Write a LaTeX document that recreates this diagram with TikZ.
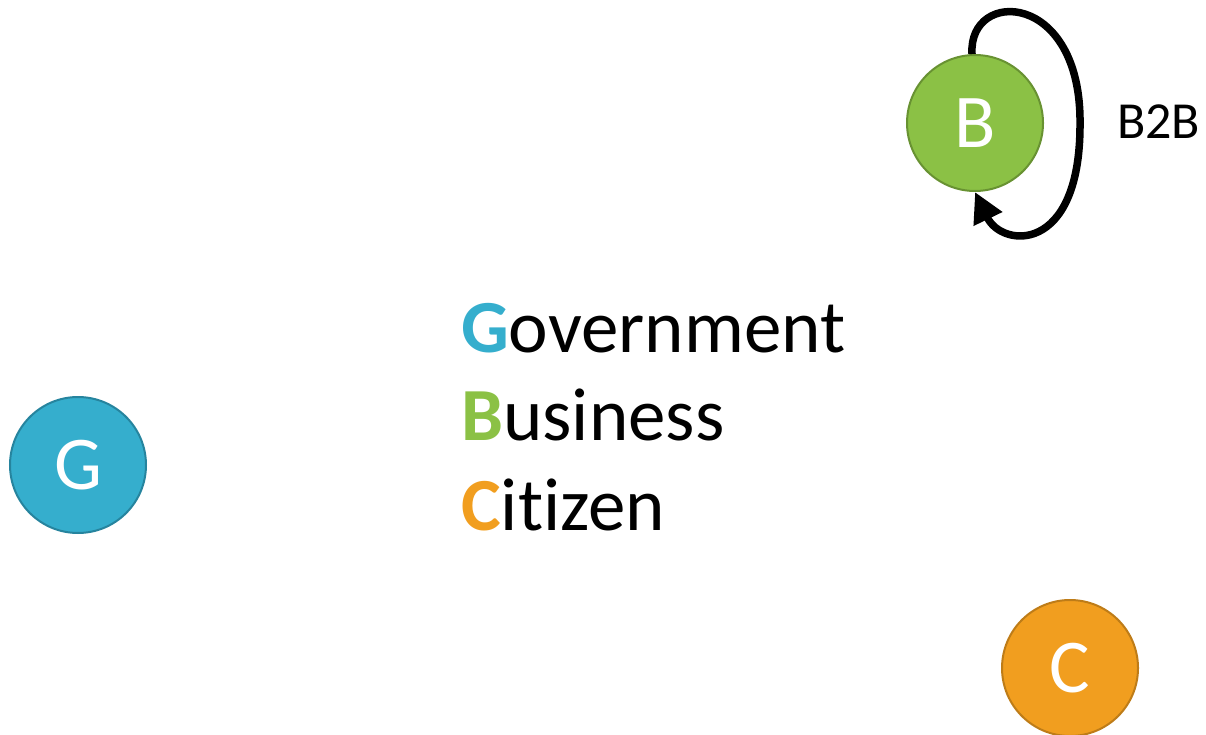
\documentclass[tikz,border=0pt]{standalone}
\usepackage{fontspec}
\setmainfont{Carlito}[Ligatures=NoCommon]
\usetikzlibrary{arrows.meta}
\definecolor{gblue}{RGB}{53,174,205}
\definecolor{gblueD}{RGB}{38,132,158}
\definecolor{bgreen}{RGB}{139,193,69}
\definecolor{bgreenD}{RGB}{104,146,50}
\definecolor{corange}{RGB}{241,158,31}
\definecolor{corangeD}{RGB}{190,124,24}
\tikzset{
  actor/.style={circle, minimum size=136pt, inner sep=0pt, line width=2pt, text=white, font=\fontsize{76}{80}\selectfont},
  legend/.style={anchor=base west, inner sep=0pt, font=\fontsize{75}{80}\selectfont},
}
\begin{document}
\begin{tikzpicture}[x=1pt,y=-1pt]
\useasboundingbox (0,0) rectangle (1206,735);
\node[actor, fill=bgreen, draw=bgreenD] (B) at (975,123) {B};
\node[actor, fill=gblue, draw=gblueD] (G) at (78,465) {G};
\node[actor, fill=corange, draw=corangeD] (C) at (1070,668) {C};
\coordinate (loopR) at (1080,125);
\draw[line width=7.5pt, -{Triangle[length=30pt,width=30pt]}] (B.north) ++(-3,0) .. controls (968,-12) and (1082,-10) .. (loopR) .. controls (1080,255) and (1002,248) .. (B.south);
\node[anchor=base west, inner sep=0pt, font=\fontsize{52}{56}\selectfont] (b2b) at (1117,139) {B2B};
\node[legend] (gov) at (461,352) {\textbf{\textcolor{gblue}{G}}overnment};
\node[legend] (bus) at (461,440) {\textbf{\textcolor{bgreen}{B}}usiness};
\node[legend] (cit) at (461,530) {\textbf{\textcolor{corange}{C}}itizen};
\end{tikzpicture}
\end{document}
